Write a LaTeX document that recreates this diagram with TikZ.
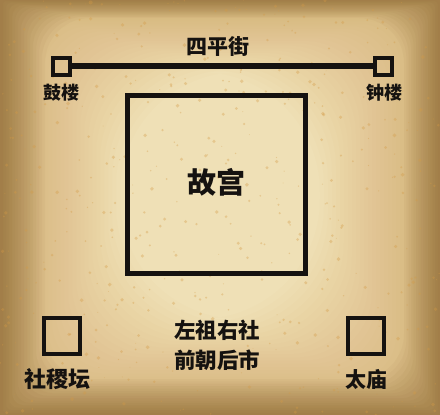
\documentclass[tikz,border=0pt]{standalone}
\usepackage{fontspec}
\newfontfamily\cjk{Noto Sans CJK SC}
\definecolor{pcenter}{HTML}{EFE0B6}
\definecolor{pgold}{HTML}{C8923F}
\definecolor{pedge}{HTML}{6E4119}
\definecolor{speck}{HTML}{D49A45}
\definecolor{ink}{HTML}{151210}
\tikzset{
  box/.style={draw=ink, inner sep=0pt, fill=none},
  lbl/.style={text=ink, inner sep=0pt, font=\cjk\bfseries}
}
\begin{document}
\begin{tikzpicture}[x=1pt,y=-1pt]
\useasboundingbox (0,0) rectangle (440,415);
\fill[pcenter] (0,0) rectangle (440,415);
\foreach \d in {4,8,...,120}{
  \fill[pgold, opacity=0.02, even odd rule] (0,0) rectangle (440,415)
    [rounded corners=\d pt] (\d,0.6*\d) rectangle (440-\d,415-0.8*\d);
}
\foreach \d in {3,6,...,45}{
  \fill[pedge, opacity=0.035, even odd rule] (0,0) rectangle (440,415)
    [rounded corners=\d pt] (\d,0.4*\d) rectangle (440-0.8*\d,415-0.8*\d);
}
\pgfmathsetseed{11}
\foreach \i in {1,...,500}{
  \pgfmathsetmacro\px{rnd*440}
  \pgfmathsetmacro\py{rnd*415}
  \pgfmathsetmacro\pr{rnd*1.6+0.4}
  \fill[speck, opacity=0.35] (\px,\py) circle (\pr);
}
% top street
\node[box, line width=4pt, minimum size=17pt] (gulousq) at (61,66) {};
\node[box, line width=4pt, minimum size=17pt] (zhonglousq) at (383,66) {};
\draw[ink, line width=5.5pt] (gulousq.east) -- (zhonglousq.west);
\node[lbl, font=\cjk\bfseries\fontsize{21pt}{24pt}\selectfont] (street) at (218,47) {四平街};
\node[lbl, font=\cjk\bfseries\fontsize{18pt}{20pt}\selectfont] (gulou) at (61,93) {鼓楼};
\node[lbl, font=\cjk\bfseries\fontsize{18pt}{20pt}\selectfont] (zhonglou) at (384,93) {钟楼};
% palace
\node[box, line width=5pt, minimum size=178pt] (palace) at (216,184) {};
\node[lbl, font=\cjk\bfseries\fontsize{29pt}{32pt}\selectfont] (gugong) at (216,182) {故宫};
% bottom
\node[box, line width=4.5pt, minimum size=36pt] (shejisq) at (62,336) {};
\node[box, line width=4.5pt, minimum size=36pt] (taimiaosq) at (366,336) {};
\node[lbl, font=\cjk\bfseries\fontsize{22pt}{24pt}\selectfont] (sheji) at (57,379) {社稷坛};
\node[lbl, font=\cjk\bfseries\fontsize{21pt}{24pt}\selectfont] (taimiao) at (366,379) {太庙};
\node[lbl, font=\cjk\bfseries\fontsize{21.5pt}{24pt}\selectfont] (rule1) at (217,330) {左祖右社};
\node[lbl, font=\cjk\bfseries\fontsize{21.5pt}{24pt}\selectfont] (rule2) at (217,360) {前朝后市};
\end{tikzpicture}
\end{document}
